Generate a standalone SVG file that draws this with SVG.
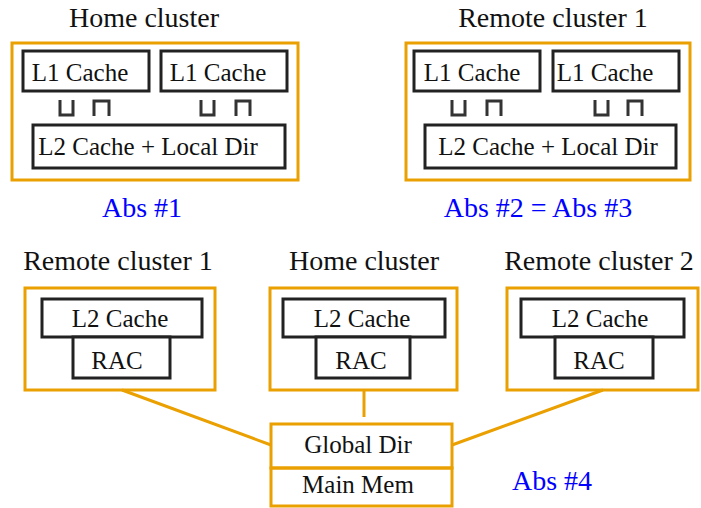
<svg xmlns="http://www.w3.org/2000/svg" width="701" height="508" viewBox="0 0 701 508">
<style>
.cl{fill:none;stroke:#EAA000;stroke-width:3}
.bx{fill:#fff;stroke:#222;stroke-width:3}
.pt{fill:none;stroke:#333;stroke-width:3}
.cn{fill:none;stroke:#EAA000;stroke-width:3}
text{font-family:'Liberation Serif','Times New Roman',serif}
.t{fill:#111;text-anchor:middle}
.tt{font-size:28px}
.tl{font-size:25px}
.ab{fill:#0000FF;font-size:28px;text-anchor:middle}
</style>
<rect width="701" height="508" fill="#fff"/>
<g id="connectors">
<line class="cn" x1="122" y1="390" x2="271" y2="445"/>
<line class="cn" x1="364" y1="390" x2="364" y2="417"/>
<line class="cn" x1="603" y1="390" x2="452" y2="445"/>
</g>
<g id="home-top">
<text class="t tt" x="144" y="27">Home cluster</text>
<rect class="cl" x="12" y="43" width="286" height="137"/>
<rect class="bx" x="23" y="51" width="126" height="40"/>
<text class="t tl" x="80" y="81">L1 Cache</text>
<rect class="bx" x="161" y="51" width="126" height="40"/>
<text class="t tl" x="218" y="81">L1 Cache</text>
<path class="pt" d="M60 100V115H73V100M94 116V101H109V116M201 100V115H214V100M236 116V101H250V116"/>
<rect class="bx" x="33" y="125" width="252" height="43"/>
<text class="t tl" x="148" y="155">L2 Cache + Local Dir</text>
</g>
<text class="ab" x="142" y="217">Abs #1</text>
<g id="remote1-top">
<text class="t tt" x="553" y="27">Remote cluster 1</text>
<rect class="cl" x="406" y="43" width="284" height="137"/>
<rect class="bx" x="414" y="51" width="126" height="40"/>
<text class="t tl" x="472" y="81">L1 Cache</text>
<rect class="bx" x="553" y="51" width="126" height="40"/>
<text class="t tl" x="605" y="81">L1 Cache</text>
<path class="pt" d="M452 100V115H465V100M487 116V101H501V116M595 100V115H608V100M628 116V101H642V116"/>
<rect class="bx" x="425" y="125" width="251" height="43"/>
<text class="t tl" x="548" y="155">L2 Cache + Local Dir</text>
</g>
<text class="ab" x="538" y="217">Abs #2 = Abs #3</text>
<g id="remote1-bottom">
<text class="t tt" x="118" y="270">Remote cluster 1</text>
<rect class="cl" x="25" y="288" width="190" height="102"/>
<rect class="bx" x="42" y="299" width="160" height="38"/>
<text class="t tl" x="120" y="327">L2 Cache</text>
<rect class="bx" x="73" y="337" width="97" height="41"/>
<text class="t tl" x="117" y="369">RAC</text>
</g>
<g id="home-bottom">
<text class="t tt" x="364" y="270">Home cluster</text>
<rect class="cl" x="270" y="288" width="187" height="102"/>
<rect class="bx" x="283" y="299" width="162" height="38"/>
<text class="t tl" x="362" y="327">L2 Cache</text>
<rect class="bx" x="316" y="337" width="94" height="41"/>
<text class="t tl" x="361" y="369">RAC</text>
</g>
<g id="remote2-bottom">
<text class="t tt" x="599" y="270">Remote cluster 2</text>
<rect class="cl" x="507" y="288" width="191" height="102"/>
<rect class="bx" x="521" y="299" width="163" height="38"/>
<text class="t tl" x="600" y="327">L2 Cache</text>
<rect class="bx" x="555" y="337" width="98" height="41"/>
<text class="t tl" x="599" y="369">RAC</text>
</g>
<g id="global-dir">
<rect class="cl" x="271" y="424" width="181" height="44"/>
<text class="t tl" x="358" y="453">Global Dir</text>
</g>
<g id="main-mem">
<rect class="cl" x="271" y="468" width="181" height="38"/>
<text class="t tl" x="358" y="493">Main Mem</text>
</g>
<text class="ab" x="552" y="490">Abs #4</text>
</svg>
